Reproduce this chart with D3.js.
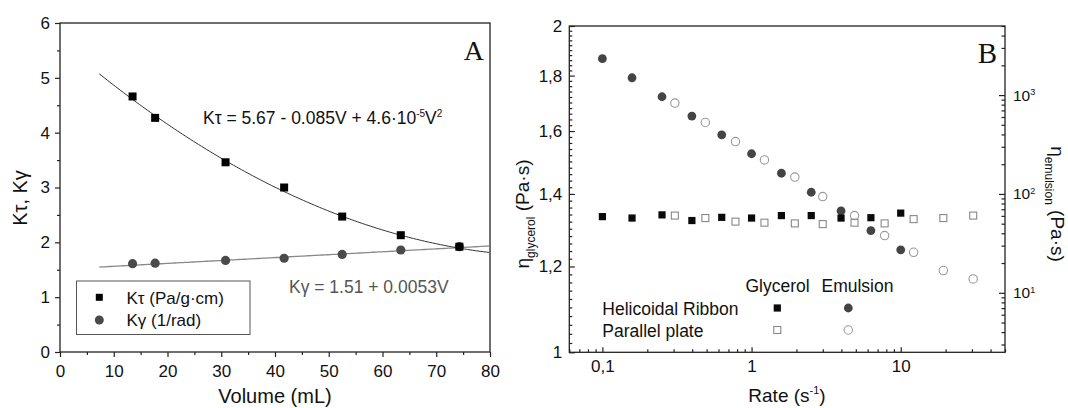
<!DOCTYPE html>
<html>
<head>
<meta charset="utf-8">
<script src="https://cdn.jsdelivr.net/npm/d3@7"></script>
<style>
  body { margin: 0; background: #fff; }
  svg { display: block; font-family: "Liberation Sans", Arial, sans-serif; }
</style>
</head>
<body>
<svg id="chart" width="1068" height="408"></svg>
<script>
// ---- panel A data
const volume = [13.5, 17.7, 30.8, 41.7, 52.5, 63.4, 74.3]
const kTau = [4.66, 4.27, 3.46, 3.0, 2.47, 2.13, 1.92]
const kGamma = [1.61, 1.62, 1.67, 1.71, 1.78, 1.86, 1.92]
const kTauFit = [5.67, -0.085, 0.00046]   // curve as drawn in the figure
const kGammaFit = [1.51, 0.0053]
const fitRange = [7.3, 80]
const volumeTicks = [0, 10, 20, 30, 40, 50, 60, 70, 80]
const kTicks = [0, 1, 2, 3, 4, 5, 6]

// ---- panel B data
const rateRibbon = [0.1, 0.158, 0.251, 0.398, 0.631, 1, 1.585, 2.512, 3.98, 6.31, 10]
const rateParallel = [0.306, 0.49, 0.78, 1.22, 1.95, 3.0, 4.9, 7.8, 12.2, 19.3, 30.6]
const glycerolRibbon = [1.334, 1.330, 1.339, 1.323, 1.332, 1.330, 1.337, 1.337, 1.330, 1.331, 1.344]
const glycerolParallel = [1.337, 1.330, 1.320, 1.317, 1.315, 1.313, 1.317, 1.315, 1.327, 1.330, 1.337]
const emulsionRibbon = [2333, 1497, 962, 613, 396, 255, 162, 104, 67.4, 42.6, 27.2]
const emulsionParallel = [830, 528, 339, 221, 148, 94, 60.4, 37.9, 25.7, 16.8, 13.8]
const rateTicks = [0.1, 1, 10]
const glycerolTicks = [1, 1.2, 1.4, 1.6, 1.8, 2]
const emulsionTicks = [10, 100, 1000]

const svg = d3.select('#chart')
const axisColor = '#222'
const fs = 17

function styleAxis(g) {
  g.selectAll('path').remove()
  g.selectAll('line').attr('stroke', axisColor).attr('stroke-width', 1.2)
  g.selectAll('text').attr('fill', '#111').style('font-size', fs + 'px')
    .style('font-family', '"Liberation Sans", Arial, sans-serif')
}

// =================== Panel A ===================
const xA = d3.scaleLinear().domain([0, 80]).range([60, 490])
const yA = d3.scaleLinear().domain([0, 6]).range([352, 23])

const gA = svg.append('g')

gA.append('g').attr('transform', 'translate(0,352)')
  .call(d3.axisBottom(xA).tickValues(volumeTicks).tickSize(5).tickPadding(8))
  .call(styleAxis)
gA.append('g').attr('transform', 'translate(0,352)')
  .call(d3.axisBottom(xA).tickValues(d3.range(5, 80, 10)).tickSize(3).tickFormat(''))
  .call(styleAxis)
gA.append('g').attr('transform', 'translate(60,0)')
  .call(d3.axisLeft(yA).tickValues(kTicks).tickSize(5).tickPadding(5).tickFormat(d3.format('d')))
  .call(styleAxis)
gA.append('g').attr('transform', 'translate(60,0)')
  .call(d3.axisLeft(yA).tickValues(d3.range(0.5, 6, 1)).tickSize(3).tickFormat(''))
  .call(styleAxis)

gA.append('rect')
  .attr('x', xA(0)).attr('y', yA(6))
  .attr('width', xA(80) - xA(0)).attr('height', yA(0) - yA(6))
  .attr('fill', 'none').attr('stroke', axisColor).attr('stroke-width', 1.3)

// fitted curves
const fitV = d3.range(fitRange[0], fitRange[1] + 0.001, 0.5)
const tauFn = v => kTauFit[0] + kTauFit[1] * v + kTauFit[2] * v * v
const gamFn = v => kGammaFit[0] + kGammaFit[1] * v
const lineA = d3.line().x(d => xA(d[0])).y(d => yA(d[1]))

gA.append('path').datum(fitV.map(v => [v, gamFn(v)]))
  .attr('d', lineA).attr('fill', 'none').attr('stroke', '#888').attr('stroke-width', 1.3)
gA.append('path').datum(fitV.map(v => [v, tauFn(v)]))
  .attr('d', lineA).attr('fill', 'none').attr('stroke', '#333').attr('stroke-width', 1)

gA.selectAll('circle.kg').data(volume).join('circle')
  .attr('class', 'kg')
  .attr('cx', d => xA(d)).attr('cy', (d, i) => yA(kGamma[i])).attr('r', 4.6)
  .attr('fill', '#4a4a4a')
gA.selectAll('rect.kt').data(volume).join('rect')
  .attr('class', 'kt')
  .attr('x', d => xA(d) - 4).attr('y', (d, i) => yA(kTau[i]) - 4)
  .attr('width', 8).attr('height', 8).attr('fill', '#000')

// equations
const eqT = gA.append('text').attr('x', 203).attr('y', 124)
  .style('font-size', '17.5px').attr('fill', '#111')
eqT.append('tspan').text('K\u03c4 = 5.67 - 0.085V + 4.6\u00b710')
eqT.append('tspan').attr('dy', -7).style('font-size', '10px').text('-5')
eqT.append('tspan').attr('dy', 7).text('V')
eqT.append('tspan').attr('dy', -7).style('font-size', '10px').text('2')

gA.append('text').attr('x', 289).attr('y', 293)
  .style('font-size', '17.5px').attr('fill', '#555')
  .text('K\u03b3 = 1.51 + 0.0053V')

gA.append('text').attr('x', 484).attr('y', 60).attr('text-anchor', 'end')
  .style('font-family', '"Liberation Serif", "Times New Roman", serif')
  .style('font-size', '28px').attr('fill', '#111').text('A')

// legend A
gA.append('rect').attr('x', 76.5).attr('y', 281).attr('width', 173.5).attr('height', 53.5)
  .attr('fill', '#fff').attr('stroke', '#555').attr('stroke-width', 1)
gA.append('rect').attr('x', 99.3 - 3.5).attr('y', 297.3 - 3.5).attr('width', 7).attr('height', 7).attr('fill', '#000')
gA.append('circle').attr('cx', 99.3).attr('cy', 320).attr('r', 4.5).attr('fill', '#4a4a4a')
gA.append('text').attr('x', 126.5).attr('y', 303.5).style('font-size', '17px').attr('fill', '#111')
  .text('K\u03c4 (Pa/g\u00b7cm)')
gA.append('text').attr('x', 126.5).attr('y', 326).style('font-size', '17px').attr('fill', '#111')
  .text('K\u03b3 (1/rad)')

// axis titles A
gA.append('text').attr('transform', 'translate(27,198) rotate(-90)')
  .attr('text-anchor', 'middle').style('font-size', '20px').attr('fill', '#111')
  .text('K\u03c4, K\u03b3')
gA.append('text').attr('x', 275).attr('y', 403).attr('text-anchor', 'middle')
  .style('font-size', '20px').attr('fill', '#111').text('Volume (mL)')

// =================== Panel B ===================
const xB = d3.scaleLog().domain([0.06, 50]).range([569.3, 1005])
const yL = d3.scaleLog().domain([1, 2]).range([352.3, 26])
const yR = d3.scaleLog().domain([2.5, 5000]).range([352.3, 26])
const gB = svg.append('g')

const minorLog = (lo, hi) => {
  const out = []
  for (let e = -3; e <= 5; e++) {
    for (let m = 1; m <= 9; m++) {
      const v = m * Math.pow(10, e)
      if (m !== 1 && v >= lo && v <= hi) out.push(v)
    }
  }
  return out
}
const commaFmt = d => String(+d.toFixed(1)).replace('.', ',')

gB.append('g').attr('transform', 'translate(0,352.3)')
  .call(d3.axisBottom(xB).tickValues(rateTicks).tickSizeInner(-5).tickSizeOuter(0).tickPadding(8).tickFormat(commaFmt))
  .call(styleAxis)
gB.append('g').attr('transform', 'translate(0,352.3)')
  .call(d3.axisBottom(xB).tickValues(minorLog(0.06, 50)).tickSizeInner(-3).tickSizeOuter(0).tickFormat(''))
  .call(styleAxis)

gB.append('g').attr('transform', 'translate(569.3,0)')
  .call(d3.axisLeft(yL).tickValues(glycerolTicks).tickSizeInner(-5.5).tickSizeOuter(0).tickPadding(7).tickFormat(commaFmt))
  .call(styleAxis)
gB.append('g').attr('transform', 'translate(569.3,0)')
  .call(d3.axisLeft(yL).tickValues(d3.range(51).filter(i => i % 10 !== 0).map(i => 1 + i * 0.02))
    .tickSizeInner(-3).tickSizeOuter(0).tickFormat(''))
  .call(styleAxis)

const gR = gB.append('g').attr('transform', 'translate(1005,0)')
  .call(d3.axisRight(yR).tickValues(emulsionTicks).tickSizeInner(-6).tickSizeOuter(0).tickPadding(8))
  .call(styleAxis)
gR.selectAll('.tick text').style('font-size', '15.5px').each(function (d) {
  const t = d3.select(this)
  t.text('10')
  t.append('tspan').attr('dy', '-0.6em').style('font-size', '9px').text(Math.round(Math.log10(d)))
})
gB.append('g').attr('transform', 'translate(1005,0)')
  .call(d3.axisRight(yR).tickValues(minorLog(2.5, 5000)).tickSizeInner(-3.5).tickSizeOuter(0).tickFormat(''))
  .call(styleAxis)

gB.append('rect')
  .attr('x', 569.3).attr('y', 26).attr('width', 1005 - 569.3).attr('height', 352.3 - 26)
  .attr('fill', 'none').attr('stroke', axisColor).attr('stroke-width', 1.3)

// markers
gB.selectAll('circle.ep').data(rateParallel).join('circle').attr('class', 'ep')
  .attr('cx', d => xB(d)).attr('cy', (d, i) => yR(emulsionParallel[i])).attr('r', 4.2)
  .attr('fill', 'none').attr('stroke', '#999').attr('stroke-width', 1.1)
gB.selectAll('circle.er').data(rateRibbon).join('circle').attr('class', 'er')
  .attr('cx', d => xB(d)).attr('cy', (d, i) => yR(emulsionRibbon[i])).attr('r', 4.4)
  .attr('fill', '#444')
gB.selectAll('rect.gp').data(rateParallel).join('rect').attr('class', 'gp')
  .attr('x', d => xB(d) - 3.5).attr('y', (d, i) => yL(glycerolParallel[i]) - 3.5)
  .attr('width', 7).attr('height', 7)
  .attr('fill', 'none').attr('stroke', '#888').attr('stroke-width', 1.1)
gB.selectAll('rect.gr').data(rateRibbon).join('rect').attr('class', 'gr')
  .attr('x', d => xB(d) - 3.6).attr('y', (d, i) => yL(glycerolRibbon[i]) - 3.6)
  .attr('width', 7.2).attr('height', 7.2).attr('fill', '#0a0a0a')

// legend B
const lg = gB.append('g').style('font-size', '17.5px').attr('fill', '#111')
lg.append('text').attr('x', 745.5).attr('y', 292).text('Glycerol')
lg.append('text').attr('x', 821.5).attr('y', 292).text('Emulsion')
lg.append('text').attr('x', 602.3).attr('y', 314.5).text('Helicoidal Ribbon')
lg.append('text').attr('x', 602.3).attr('y', 336.5).text('Parallel plate')
gB.append('rect').attr('x', 777.3 - 3.6).attr('y', 308 - 3.6).attr('width', 7.2).attr('height', 7.2).attr('fill', '#0a0a0a')
gB.append('rect').attr('x', 777.3 - 3.5).attr('y', 330 - 3.5).attr('width', 7).attr('height', 7)
  .attr('fill', 'none').attr('stroke', '#888').attr('stroke-width', 1.1)
gB.append('circle').attr('cx', 848.3).attr('cy', 308).attr('r', 4.4).attr('fill', '#444')
gB.append('circle').attr('cx', 848.3).attr('cy', 330).attr('r', 4.2)
  .attr('fill', 'none').attr('stroke', '#999').attr('stroke-width', 1.1)

gB.append('text').attr('x', 997).attr('y', 63).attr('text-anchor', 'end')
  .style('font-family', '"Liberation Serif", "Times New Roman", serif')
  .style('font-size', '29px').attr('fill', '#111').text('B')

// axis titles B
const tL = gB.append('text').attr('transform', 'translate(529,214) rotate(-90)')
  .attr('text-anchor', 'middle').style('font-size', '19px').attr('fill', '#111')
tL.append('tspan').text('\u03b7')
tL.append('tspan').attr('dy', 6).style('font-size', '12px').text('glycerol')
tL.append('tspan').attr('dy', -6).text(' (Pa\u00b7s)')

const tR = gB.append('text').attr('transform', 'translate(1051,204) rotate(90)')
  .attr('text-anchor', 'middle').style('font-size', '19px').attr('fill', '#111')
tR.append('tspan').text('\u03b7')
tR.append('tspan').attr('dy', 6).style('font-size', '12px').text('emulsion')
tR.append('tspan').attr('dy', -6).text(' (Pa\u00b7s)')

const tX = gB.append('text').attr('x', 787).attr('y', 402).attr('text-anchor', 'middle')
  .style('font-size', '19px').attr('fill', '#111')
tX.append('tspan').text('Rate (s')
tX.append('tspan').attr('dy', -8).style('font-size', '11px').text('-1')
tX.append('tspan').attr('dy', 8).text(')')
</script>
</body>
</html>
